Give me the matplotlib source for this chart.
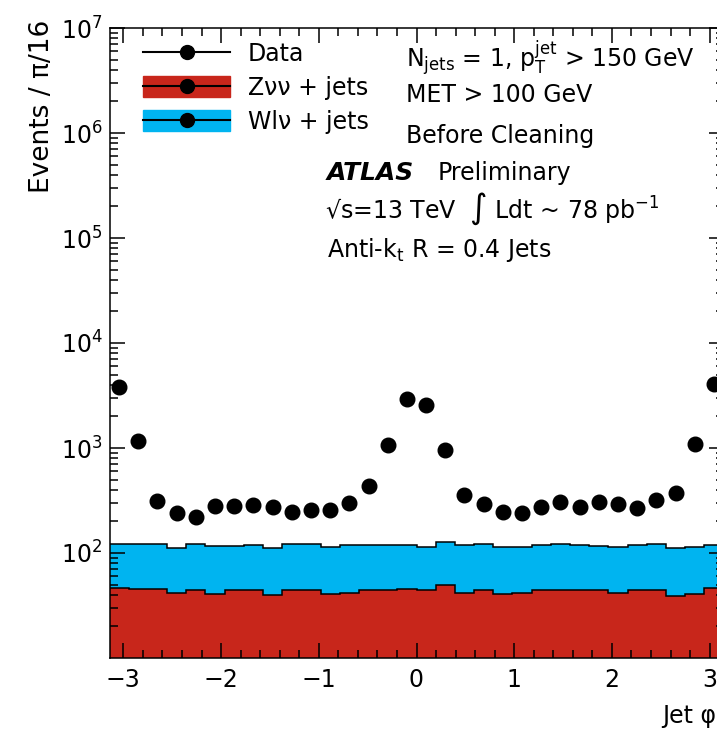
import matplotlib
matplotlib.use("Agg")
import matplotlib.pyplot as plt
import numpy as np
from matplotlib.lines import Line2D
from matplotlib.patches import Patch
from matplotlib.ticker import MultipleLocator, LogLocator, FixedLocator

plt.rcParams["font.family"] = ["DejaVu Sans"]
plt.rcParams["mathtext.fontset"] = "dejavusans"

# 32 bins of pi/16 in jet phi
N_BINS = 32
PHI_LO, PHI_HI = -np.pi, np.pi

DATA = [3790, 1166, 315, 239, 222, 280, 282, 286, 276, 244, 257, 257, 301, 434, 1068, 2910,
        2570, 958, 357, 291, 244, 239, 276, 308, 276, 308, 293, 270, 320, 375, 1092, 4070]
ZNUNU = [46, 45, 45, 42, 44, 41, 44, 44, 40, 44, 44, 41, 42, 44, 44, 45,
         44, 50, 42, 44, 41, 42, 44, 44, 44, 44, 42, 44, 44, 39, 41, 46]
WLNU = [75, 76, 76, 70, 77, 76, 73, 75, 71, 77, 77, 74, 77, 74, 74, 74,
        69, 78, 77, 77, 72, 73, 75, 77, 75, 73, 73, 75, 77, 72, 74, 73]
Y_MAJOR = [1e2, 1e3, 1e4, 1e5, 1e6, 1e7]

RED = "#C8261B"
BLUE = "#00B4F0"
FS = 17

W, H = 717, 739
fig = plt.figure(figsize=(W / 100, H / 100), dpi=100)
ax = fig.add_axes([109.5 / W, 81 / H, 614 / W, 630 / H])

edges = np.linspace(PHI_LO, PHI_HI, N_BINS + 1)
centers = 0.5 * (edges[1:] + edges[:-1])
z = np.array(ZNUNU, dtype=float)
tot = z + np.array(WLNU, dtype=float)

ax.set_yscale("log")
ax.stairs(z, edges, baseline=1, fill=True, color=RED, lw=0)
ax.stairs(tot, edges, baseline=z, fill=True, color=BLUE, lw=0)
ax.stairs(z, edges, baseline=None, color="black", lw=1.1)
ax.stairs(tot, edges, baseline=None, color="black", lw=1.1)
ax.plot(centers, DATA, "o", color="black", ms=10.5, zorder=5)

ax.set_xlim(PHI_LO, PHI_HI)
ax.set_ylim(10, 1e7)
ax.xaxis.set_major_locator(MultipleLocator(1))
ax.xaxis.set_minor_locator(MultipleLocator(0.2))
ax.yaxis.set_major_locator(FixedLocator(Y_MAJOR))
ax.yaxis.set_minor_locator(LogLocator(base=10, subs=np.arange(2, 10)))
ax.tick_params(which="both", direction="in", top=True, right=True, labelsize=FS, width=1.1)
ax.tick_params(which="major", length=11)
ax.tick_params(which="minor", length=5.5)
ax.tick_params(axis="x", pad=7)
ax.tick_params(axis="y", pad=5)
for s in ax.spines.values():
    s.set_linewidth(1.1)

fig.text(42 / W, 1 - 20 / H, "Events / \u03c0/16", rotation=90, ha="center", va="top", fontsize=19)
fig.text(662 / W, 1 - 716 / H, "Jet \u03c6", ha="left", va="center", fontsize=FS)

# legend
def mk_line():
    return Line2D([], [], color="black", marker="o", ms=10, lw=1.5)

data_h = mk_line()
z_h = (Patch(facecolor=RED, edgecolor=RED), mk_line())
w_h = (Patch(facecolor=BLUE, edgecolor=BLUE), mk_line())
ax.legend([data_h, z_h, w_h], ["Data", "Z\u03bd\u03bd + jets", "Wl\u03bd + jets"],
          loc="upper left", bbox_to_anchor=(143 / W, 1 - 42 / H), bbox_transform=fig.transFigure,
          frameon=False, fontsize=FS, borderpad=0, borderaxespad=0,
          handlelength=3.7, handleheight=1.0, handletextpad=0.75, labelspacing=0.42)


def ftext(x, y, s, size=FS, **kw):
    fig.text(x / W, 1 - y / H, s, ha="left", va="center", fontsize=size, **kw)


ftext(406, 58, r"N$_{\rm jets}$ = 1, p$_{\rm T}^{\rm jet}$ > 150 GeV")
ftext(406, 95, "MET > 100 GeV")
ftext(406, 136, "Before Cleaning")
ftext(327, 173, "ATLAS", size=18, fontweight="bold", fontstyle="italic")
ftext(438, 173, "Preliminary")
ftext(325, 209, "\u221as=13 TeV  $\\int$ Ldt ~ 78 pb$^{-1}$")
ftext(327, 250, r"Anti-k$_{\rm t}$ R = 0.4 Jets")

fig.savefig("out.png", dpi=100)
